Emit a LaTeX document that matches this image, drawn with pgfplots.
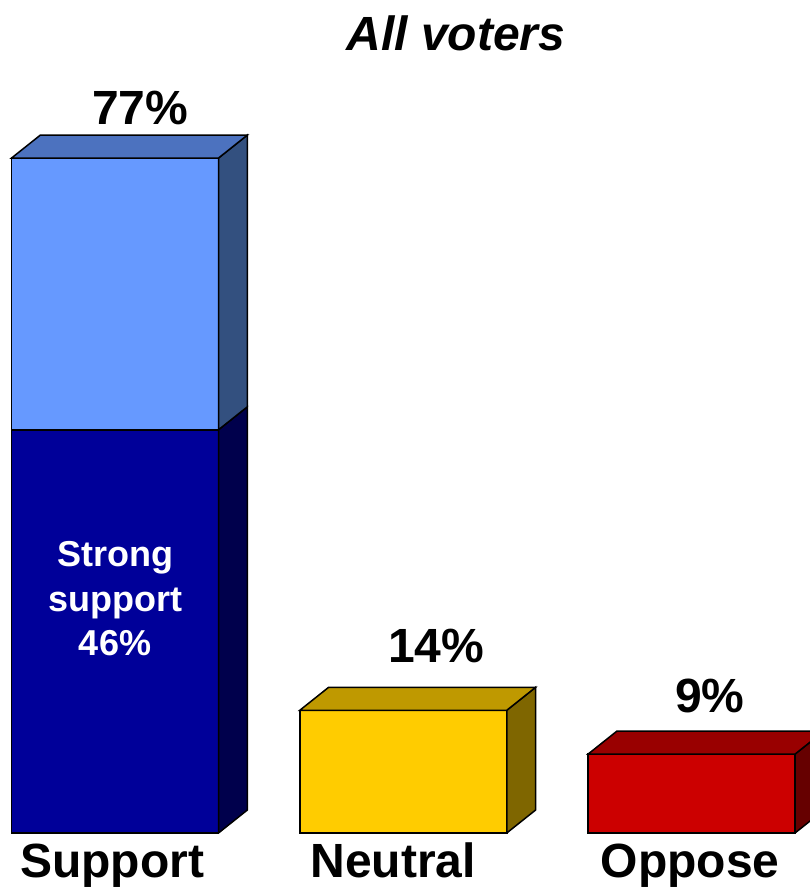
\documentclass[border=0pt]{standalone}
\usepackage{pgfplots}
\pgfplotsset{compat=1.18}
\usepackage{fontspec}
\setmainfont{Liberation Sans}
\definecolor{lbF}{HTML}{6699FF}
\definecolor{lbT}{HTML}{4C72BF}
\definecolor{lbS}{HTML}{33507F}
\definecolor{dbF}{HTML}{000099}
\definecolor{dbS}{HTML}{00004C}
\definecolor{yF}{HTML}{FFCC00}
\definecolor{yT}{HTML}{BF9900}
\definecolor{yS}{HTML}{7F6600}
\definecolor{rF}{HTML}{CC0000}
\definecolor{rT}{HTML}{990000}
\definecolor{rS}{HTML}{660000}
\begin{document}
\begin{tikzpicture}
\useasboundingbox (0pt,-55pt) rectangle (810pt,833pt);
\begin{axis}[
  scale only axis, width=810pt, height=833pt,
  xmin=-0.399, xmax=2.411, ymin=0, ymax=95.03,
  axis line style={draw=none}, major tick length=0pt,
  ytick=\empty,
  xtick={-0.0104,0.9645,1.9948},
  xticklabels={Support,Neutral,Oppose},
  xticklabel style={anchor=base, yshift=-44pt, font=\fontsize{48}{58}\selectfont\bfseries},
  every axis plot/.append style={line width=1.5pt, draw=black},
]
% fronts
\addplot[ybar, bar width=0.718, fill=lbF] coordinates {(0,77)};
\addplot[ybar, bar width=0.718, fill=dbF] coordinates {(0,46)};
\addplot[ybar, bar width=0.718, fill=yF] coordinates {(1,14)};
\addplot[ybar, bar width=0.718, fill=rF] coordinates {(2,9)};
% side faces
\addplot[fill=dbS] coordinates {(0.359,0) (0.459,2.62) (0.459,48.62) (0.359,46)} -- cycle;
\addplot[fill=lbS] coordinates {(0.359,46) (0.459,48.62) (0.459,79.62) (0.359,77)} -- cycle;
\addplot[fill=yS] coordinates {(1.359,0) (1.459,2.62) (1.459,16.62) (1.359,14)} -- cycle;
\addplot[fill=rS] coordinates {(2.359,0) (2.459,2.62) (2.459,11.62) (2.359,9)} -- cycle;
% top faces
\addplot[fill=lbT] coordinates {(-0.359,77) (0.359,77) (0.459,79.62) (-0.259,79.62)} -- cycle;
\addplot[fill=yT] coordinates {(0.641,14) (1.359,14) (1.459,16.62) (0.741,16.62)} -- cycle;
\addplot[fill=rT] coordinates {(1.641,9) (2.359,9) (2.459,11.62) (1.741,11.62)} -- cycle;
% labels
\node[anchor=base, font=\fontsize{48}{58}\selectfont\bfseries\itshape] at (axis cs:1.183,89.32) {All voters};
\node[anchor=base, font=\fontsize{48}{58}\selectfont\bfseries] at (axis cs:0.087,80.88) {77\%};
\node[anchor=base, font=\fontsize{48}{58}\selectfont\bfseries] at (axis cs:1.114,19.5) {14\%};
\node[anchor=base, font=\fontsize{48}{58}\selectfont\bfseries] at (axis cs:2.064,13.8) {9\%};
\node[anchor=center, align=center, text=white, font=\fontsize{36}{44.5}\selectfont\bfseries] at (axis cs:0,26.72) {Strong\\support\\46\%};
\end{axis}
\end{tikzpicture}
\end{document}
